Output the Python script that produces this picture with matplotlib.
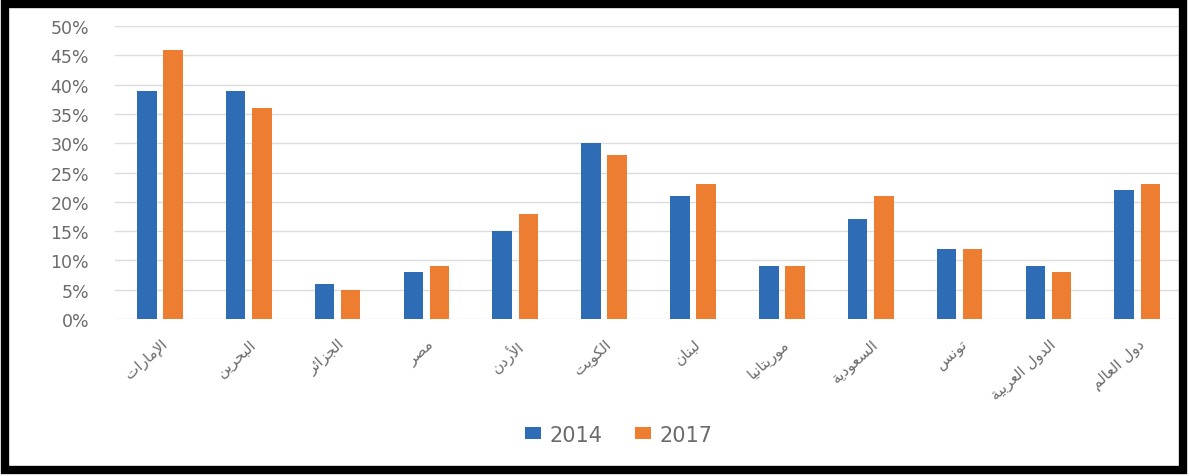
import matplotlib
matplotlib.use("Agg")
import matplotlib.pyplot as plt
import numpy as np
from matplotlib.patches import Rectangle
from matplotlib.ticker import PercentFormatter

# Data
categories = ["الإمارات", "البحرين", "الجزائر", "مصر", "الأردن", "الكويت",
              "لبنان", "موريتانيا", "السعودية", "تونس", "الدول العربية", "دول العالم"]
values_2014 = [39, 39, 6, 8, 15, 30, 21, 9, 17, 12, 9, 22]
values_2017 = [46, 36, 5, 9, 18, 28, 23, 9, 21, 12, 8, 23]
series_names = ["2014", "2017"]

# Minimal Arabic shaping (presentation forms) since matplotlib has no text shaping
FORMS = {  # isolated, final, initial, medial
    'ا': ('\uFE8D', '\uFE8E', None, None),
    'أ': ('\uFE83', '\uFE84', None, None),
    'إ': ('\uFE87', '\uFE88', None, None),
    'ب': ('\uFE8F', '\uFE90', '\uFE91', '\uFE92'),
    'ة': ('\uFE93', '\uFE94', None, None),
    'ت': ('\uFE95', '\uFE96', '\uFE97', '\uFE98'),
    'ج': ('\uFE9D', '\uFE9E', '\uFE9F', '\uFEA0'),
    'ح': ('\uFEA1', '\uFEA2', '\uFEA3', '\uFEA4'),
    'د': ('\uFEA9', '\uFEAA', None, None),
    'ر': ('\uFEAD', '\uFEAE', None, None),
    'ز': ('\uFEAF', '\uFEB0', None, None),
    'س': ('\uFEB1', '\uFEB2', '\uFEB3', '\uFEB4'),
    'ص': ('\uFEB9', '\uFEBA', '\uFEBB', '\uFEBC'),
    'ع': ('\uFEC9', '\uFECA', '\uFECB', '\uFECC'),
    'ك': ('\uFED9', '\uFEDA', '\uFEDB', '\uFEDC'),
    'ل': ('\uFEDD', '\uFEDE', '\uFEDF', '\uFEE0'),
    'م': ('\uFEE1', '\uFEE2', '\uFEE3', '\uFEE4'),
    'ن': ('\uFEE5', '\uFEE6', '\uFEE7', '\uFEE8'),
    'و': ('\uFEED', '\uFEEE', None, None),
    'ي': ('\uFEF1', '\uFEF2', '\uFEF3', '\uFEF4'),
    'ئ': ('\uFE89', '\uFE8A', '\uFE8B', '\uFE8C'),
}
LAMALEF = {'ا': ('\uFEFB', '\uFEFC'), 'أ': ('\uFEF7', '\uFEF8'), 'إ': ('\uFEF9', '\uFEFA')}


def shape_arabic(text):
    out = []
    i = 0
    n = len(text)
    while i < n:
        c = text[i]
        if c not in FORMS:
            out.append(c)
            i += 1
            continue
        prev = text[i - 1] if i > 0 else None
        joins_prev = prev in FORMS and FORMS[prev][2] is not None
        if c == 'ل' and i + 1 < n and text[i + 1] in LAMALEF:
            iso, fin = LAMALEF[text[i + 1]]
            out.append(fin if joins_prev else iso)
            i += 2
            continue
        nxt = text[i + 1] if i + 1 < n else None
        iso, fin, ini, med = FORMS[c]
        joins_next = ini is not None and nxt in FORMS
        if joins_prev and joins_next:
            out.append(med)
        elif joins_prev:
            out.append(fin)
        elif joins_next:
            out.append(ini)
        else:
            out.append(iso)
        i += 1
    return ''.join(reversed(out))


blue = '#2E6DB6'
orange = '#ED7D31'
text_col = '#6b6b6b'

fig = plt.figure(figsize=(11.9, 4.77), dpi=100)
ax = fig.add_axes([0.097, 0.329, 0.896, 0.614])

x = np.arange(len(categories))
w = 0.22
ax.bar(x - 0.147, values_2014, w, color=blue, label=series_names[0], zorder=3)
ax.bar(x + 0.147, values_2017, w, color=orange, label=series_names[1], zorder=3)

ax.set_xlim(-0.5, len(categories) - 0.5)
ax.set_ylim(0, 50)
ax.set_yticks(np.arange(0, 51, 5))
ax.yaxis.set_major_formatter(PercentFormatter(decimals=0))
ax.grid(axis='y', color='#dcdcdc', linewidth=1.0, zorder=0)
for s in ax.spines.values():
    s.set_visible(False)
ax.tick_params(axis='both', length=0, colors=text_col)
ax.tick_params(axis='y', pad=19, labelsize=12.5)

ax.set_xticks(x)
ax.set_xticklabels([shape_arabic(c) for c in categories], rotation=42,
                   ha='right', rotation_mode='anchor', fontsize=11,
                   color=text_col, family='DejaVu Sans')
ax.tick_params(axis='x', pad=12)

leg = fig.legend(loc='center', bbox_to_anchor=(0.52, 0.087), ncol=2, frameon=False,
                 fontsize=15, handlelength=0.75, handleheight=0.45,
                 columnspacing=1.6, handletextpad=0.4)
for t in leg.get_texts():
    t.set_color(text_col)

# black frame round the picture
fig.patches.append(Rectangle((0.004, 0.012), 0.99, 0.978, transform=fig.transFigure,
                             fill=False, edgecolor='black', linewidth=6))

fig.savefig('out.png', dpi=100)
